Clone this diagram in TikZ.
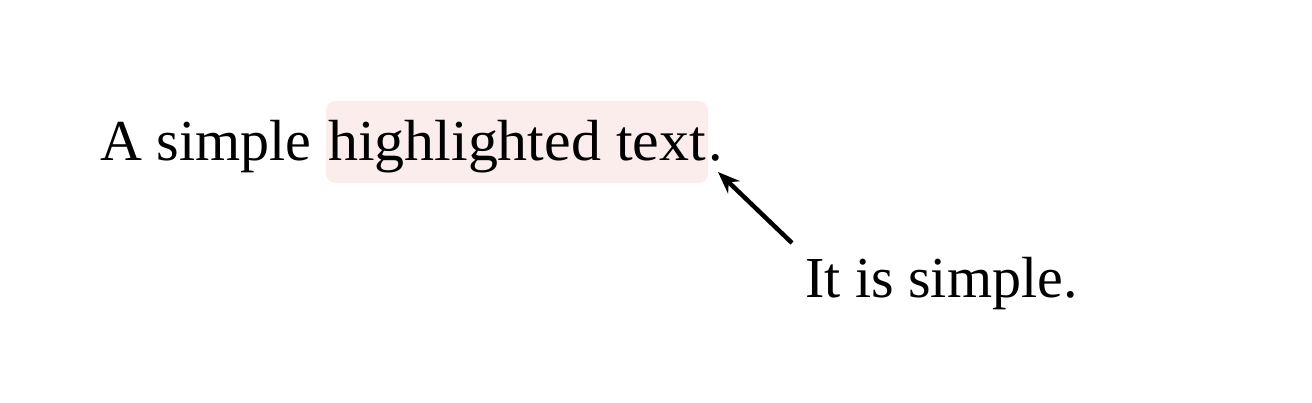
\documentclass[tikz,border=0pt]{standalone}
\usepackage{fontspec}
\setmainfont{Liberation Serif}
\newfontfamily\hlfont[FakeStretch=1.033]{Liberation Serif}
\usetikzlibrary{arrows.meta}
\definecolor{hlpink}{HTML}{FCEDED}
\tikzset{
  txt/.style={anchor=base west, inner sep=0pt, font=\fontsize{58}{62}\selectfont},
  hl/.style={txt, font=\hlfont\fontsize{58}{62}\selectfont, fill=hlpink, rounded corners=9pt, inner xsep=2pt, inner ysep=0pt, text height=59pt, text depth=23pt},
  callout/.style={-{Stealth[length=22pt,width=17pt]}, line width=4.5pt}
}
\begin{document}
\begin{tikzpicture}[x=1pt,y=-1pt]
\useasboundingbox (0,0) rectangle (1312,402);
\node[txt] (a) at (100,160) {A simple};
\node[hl] (h) at (326,160) {highlighted text};
\node[txt] (dot) at (h.base east) {.};
\node[txt] (c) at (805,297) {It is simple.};
\coordinate (tail) at (792,243);
\coordinate (tip) at (718,172);
\draw[callout] (tail) -- (tip);
\end{tikzpicture}
\end{document}
